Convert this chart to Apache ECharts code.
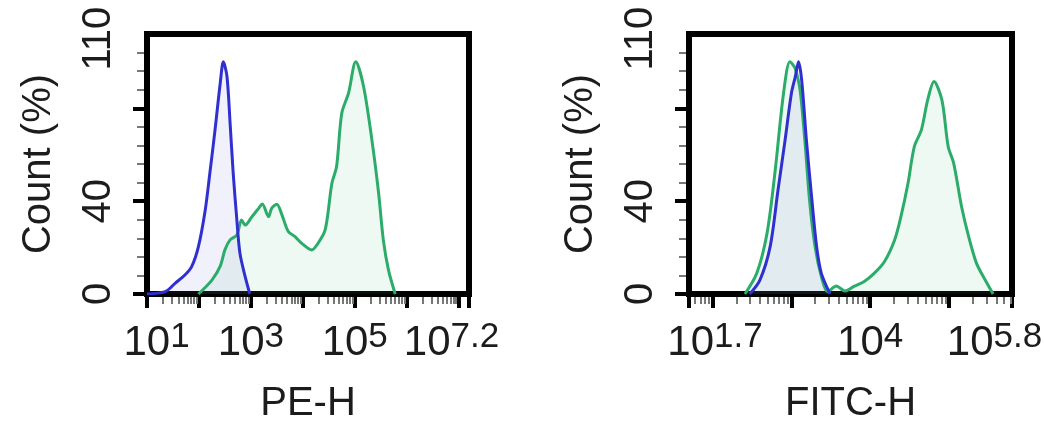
<!DOCTYPE html>
<html><head><meta charset="utf-8">
<script src="https://cdn.jsdelivr.net/npm/echarts@6/dist/echarts.min.js"></script>
<style>html,body{margin:0;padding:0;background:#fff}#c{width:1044px;height:435px}</style>
</head><body><div id="c"></div>
<script>
// ---- data (x in log10 units of fluorescence, y = Count %) ----
const peBlueX = [1.0, 1.35, 1.54, 1.73, 1.86, 1.99, 2.12, 2.21, 2.31, 2.41, 2.47, 2.54, 2.60, 2.66, 2.73, 2.79, 2.89, 2.98];
const peBlueY = [0, 1, 4.6, 8.2, 11.8, 20.4, 36, 52, 70.7, 90.8, 100, 93.7, 73.6, 52, 31.9, 17.5, 7.5, 0];
const peGreenX = [1.99, 2.25, 2.41, 2.50, 2.60, 2.73, 2.82, 2.89, 3.02, 3.15, 3.22, 3.34, 3.40, 3.50, 3.60, 3.72, 3.85, 3.98, 4.17, 4.27, 4.43, 4.56, 4.65, 4.75, 4.88, 5.02, 5.17, 5.33, 5.46, 5.55, 5.65, 5.78];
const peGreenY = [0, 6, 12, 19, 23.3, 25.4, 31.9, 29.7, 33.3, 36.9, 38.8, 33.3, 36.9, 38.7, 34, 26.9, 24.7, 21.8, 19, 21.1, 27.6, 47.7, 54.9, 77.9, 86.5, 100, 89.4, 66.4, 43.4, 23.3, 10.3, 0];
const fitcBlueX = [2.47, 2.60, 2.73, 2.83, 2.92, 3.00, 3.05, 3.09, 3.13, 3.19, 3.26, 3.32, 3.38, 3.49];
const fitcBlueY = [0, 6, 20.4, 44.8, 66.4, 86.5, 93.7, 100, 92.2, 66.4, 40.5, 20.4, 8.9, 0];
const fitcGreenX = [2.41, 2.56, 2.69, 2.79, 2.90, 2.98, 3.02, 3.05, 3.11, 3.17, 3.23, 3.30, 3.38, 3.46, 3.57, 3.68, 3.80, 3.92, 4.05, 4.18, 4.31, 4.39, 4.48, 4.56, 4.65, 4.73, 4.81, 4.91, 4.99, 5.06, 5.16, 5.25, 5.35, 5.46, 5.56];
const fitcGreenY = [0, 8.9, 26.1, 52, 86.5, 100, 98.7, 97, 87.9, 66.4, 40.5, 20.4, 7.5, 1, 3.4, 1.3, 3.4, 5.3, 8.9, 13.9, 23.3, 33.3, 47.7, 63.5, 70.7, 83.6, 91.5, 83.6, 63.5, 56.3, 37.6, 24.7, 13.2, 6, 0];

// ---- axes / ticks ----
const peRange = [1, 7.2];
const fitcRange = [1.7, 5.8];
const peLabelVals = [1, 3, 5, 7.2];
const peLabelExps = ['1', '3', '5', '7.2'];
const fitcLabelVals = [1.7, 4, 5.8];
const fitcLabelExps = ['1.7', '4', '5.8'];
const peMajorTicks = [1, 2, 3, 4, 5, 6, 7, 7.2];
const fitcMajorTicks = [1.7, 2, 3, 4, 5, 5.8];
const yRange = [0, 112];
const yMajorTicks = [0, 40, 80];
const yTickLabels = [0, 40, 110];
const yTitle = 'Count (%)';
const peTitle = 'PE-H';
const fitcTitle = 'FITC-H';

const FONT = '"Liberation Sans", Arial, sans-serif';
const TXT = '#1c1c1c';
const BLUE = '#3030d0', BLUE_FILL = 'rgba(95,95,215,0.13)';
const GREEN = '#2cac6a', GREEN_FILL = 'rgba(60,180,120,0.12)';

function zip(xs, ys) { return xs.map((x, i) => [x, ys[i]]); }
function logMinor(min, max) {
  const out = [];
  for (let n = Math.floor(min); n < max; n++) {
    for (let k = 2; k <= 9; k++) {
      const v = n + Math.log10(k);
      if (v > min + 1e-9 && v < max - 1e-9) out.push(v);
    }
  }
  return out;
}

function mainX(grid, range, labelVals, exps, major, padFirst, padLast, title) {
  const base = { fontFamily: FONT, fontSize: 42, lineHeight: 44, verticalAlign: 'bottom', color: TXT };
  const sup = { fontFamily: FONT, fontSize: 35, lineHeight: 22, verticalAlign: 'top', color: TXT };
  return {
    type: 'value', gridIndex: grid, min: range[0], max: range[1], position: 'bottom', z: 0,
    name: title, nameLocation: 'middle', nameGap: 90,
    nameTextStyle: { fontFamily: FONT, fontSize: 40, color: TXT },
    splitLine: { show: false },
    axisLine: { show: true, onZero: false, lineStyle: { color: '#000', width: 6 } },
    axisTick: { show: true, customValues: major, length: 14, lineStyle: { color: '#000', width: 4 } },
    axisLabel: {
      show: true, customValues: labelVals, margin: 26,
      formatter: function (v) {
        const i = labelVals.findIndex(t => Math.abs(t - v) < 1e-6);
        if (i < 0) return '';
        const b = i === 0 ? 'bf' : 'b';
        const s = i === labelVals.length - 1 ? 'sl' : 's';
        return '{' + b + '|10}{' + s + '|' + exps[i] + '}';
      },
      rich: {
        b: base, s: sup,
        bf: Object.assign({}, base, { padding: [0, 0, 0, padFirst] }),
        sl: Object.assign({}, sup, { padding: [0, padLast, 0, 0] })
      }
    }
  };
}
function minorX(grid, range) {
  return {
    type: 'value', gridIndex: grid, min: range[0], max: range[1], position: 'bottom', z: 0,
    splitLine: { show: false }, axisLine: { show: false },
    axisLabel: { show: false },
    axisTick: { show: true, customValues: logMinor(range[0], range[1]), length: 10, lineStyle: { color: '#777', width: 2 } }
  };
}
function yAx(grid) {
  return {
    type: 'value', gridIndex: grid, min: yRange[0], max: yRange[1], interval: 40, z: 0,
    name: yTitle, nameLocation: 'middle', nameGap: 88, nameRotate: 90,
    nameTextStyle: { fontFamily: FONT, fontSize: 40, color: TXT },
    splitLine: { show: false }, minorSplitLine: { show: false },
    axisLine: { show: true, onZero: false, lineStyle: { color: '#000', width: 6 } },
    axisTick: { show: true, customValues: yMajorTicks, length: 14, lineStyle: { color: '#000', width: 4 } },
    minorTick: { show: true, splitNumber: 5, length: 10, lineStyle: { color: '#777', width: 2 } },
    axisLabel: { customValues: yTickLabels, rotate: 90, margin: 28, fontFamily: FONT, fontSize: 40, color: TXT }
  };
}
function lineSeries(xi, yi, xs, ys, color, fill) {
  return {
    type: 'line', xAxisIndex: xi, yAxisIndex: yi, data: zip(xs, ys),
    showSymbol: false, smooth: 0.3, z: 3,
    lineStyle: { color: color, width: 3 }, areaStyle: { color: fill }
  };
}

const gridBase = { top: 34, height: 260, show: true, borderColor: '#000', borderWidth: 6, backgroundColor: 'transparent', z: 1, containLabel: false, outerBoundsMode: 'none' };
const chart = echarts.init(document.getElementById('c'), null, { renderer: 'canvas' });
chart.setOption({
  animation: false,
  backgroundColor: '#fff',
  grid: [
    Object.assign({}, gridBase, { left: 147, width: 322 }),
    Object.assign({}, gridBase, { left: 689, width: 323 })
  ],
  xAxis: [
    mainX(0, peRange, peLabelVals, peLabelExps, peMajorTicks, 19, 35, peTitle),
    minorX(0, peRange),
    mainX(1, fitcRange, fitcLabelVals, fitcLabelExps, fitcMajorTicks, 52, 35, fitcTitle),
    minorX(1, fitcRange)
  ],
  yAxis: [yAx(0), yAx(1)],
  series: [
    lineSeries(0, 0, peGreenX, peGreenY, GREEN, GREEN_FILL),
    lineSeries(0, 0, peBlueX, peBlueY, BLUE, BLUE_FILL),
    lineSeries(2, 1, fitcGreenX, fitcGreenY, GREEN, GREEN_FILL),
    lineSeries(2, 1, fitcBlueX, fitcBlueY, BLUE, BLUE_FILL)
  ]
});
</script></body></html>
